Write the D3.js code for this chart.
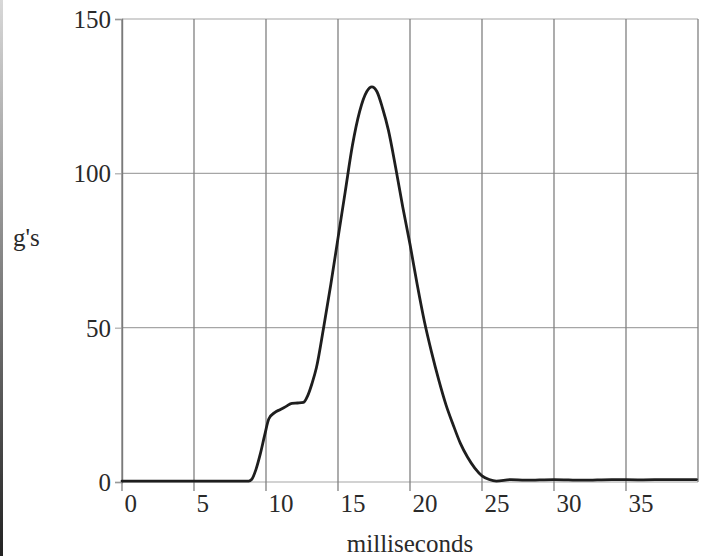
<!DOCTYPE html>
<html>
<head>
<meta charset="utf-8">
<script src="https://cdn.jsdelivr.net/npm/d3@7"></script>
<style>
  html, body { margin: 0; padding: 0; background: #fff; }
  svg { display: block; }
  text { font-family: "Liberation Serif", "Times New Roman", serif; fill: #2a2a2a; }
</style>
</head>
<body>
<svg id="chart" width="709" height="556"></svg>
<script>
// time in milliseconds
const timeMs = [0, 2, 4, 6, 8, 8.8, 9.0, 9.3, 9.6, 9.9, 10.2, 10.6, 11.0, 11.4, 11.8, 12.2, 12.6, 12.9, 13.2, 13.5,
  14.0, 14.5, 15.0, 15.5, 16.0, 16.5, 17.0, 17.35, 17.7, 18.1, 18.5, 19.0, 19.5, 20.0, 20.5, 21.0, 21.5, 22.0,
  22.5, 23.0, 23.5, 24.0, 24.5, 25.0, 25.5, 26, 27, 28, 30, 32, 34, 36, 38, 39.9];
// acceleration in g's
const gValues = [0.3, 0.3, 0.3, 0.3, 0.3, 0.3, 0.8, 4, 9, 15, 20.5, 22.5, 23.5, 24.5, 25.5, 25.6, 25.8, 28, 32, 37,
  50, 64, 79, 94, 109, 120, 126.5, 128, 126.5, 121, 114, 102, 89, 77, 64, 52, 42, 33,
  25, 18.5, 12.5, 8, 4.5, 2, 0.8, 0.3, 0.8, 0.6, 0.8, 0.6, 0.8, 0.7, 0.8, 0.8];
const xTicks = [0, 5, 10, 15, 20, 25, 30, 35];
const xGrid = [0, 5, 10, 15, 20, 25, 30, 35, 40];
const yTicks = [0, 50, 100, 150];
const xLabel = "milliseconds";
const yLabel = "g's";

const svg = d3.select("#chart");
const mLeft = 122, mRight = 698, mTop = 19, mBottom = 482;

const x = d3.scaleLinear().domain([0, 40]).range([mLeft, mRight]);
const y = d3.scaleLinear().domain([0, 150]).range([mBottom, mTop]);

// scan-edge artifact on the left border
const defs = svg.append("defs");
const grad = defs.append("linearGradient").attr("id", "edge").attr("x1", 0).attr("x2", 0).attr("y1", 0).attr("y2", 1);
grad.append("stop").attr("offset", "0%").attr("stop-color", "#d8d8d8");
grad.append("stop").attr("offset", "55%").attr("stop-color", "#777");
grad.append("stop").attr("offset", "100%").attr("stop-color", "#222");
svg.append("rect").attr("x", 0).attr("y", 0).attr("width", 3).attr("height", 556).attr("fill", "url(#edge)");

// horizontal gridlines
svg.append("g").selectAll("line").data(yTicks).join("line")
  .attr("x1", mLeft).attr("x2", mRight)
  .attr("y1", d => y(d)).attr("y2", d => y(d))
  .attr("stroke", "#a6a6a6").attr("stroke-width", 1.2);

// vertical gridlines with small ticks below axis
svg.append("g").selectAll("line").data(xGrid).join("line")
  .attr("x1", d => x(d)).attr("x2", d => x(d))
  .attr("y1", mTop).attr("y2", d => d === 40 ? mBottom : mBottom + 9)
  .attr("stroke", "#808080").attr("stroke-width", 1.3);

// y axis
const yAxis = d3.axisLeft(y).tickValues(yTicks).tickSize(7).tickFormat(d3.format("d"));
const gy = svg.append("g").attr("transform", `translate(${mLeft},0)`).call(yAxis);
gy.attr("font-family", null);
gy.select(".domain").attr("stroke", "#7a7a7a").attr("stroke-width", 1.4);
gy.selectAll(".tick line").attr("stroke", "#999");
gy.selectAll(".tick text").attr("font-size", 25).attr("x", -11).attr("dy", "0.34em")
  .attr("fill", "#2a2a2a");

// x axis labels (left-aligned at gridlines)
const xAxis = d3.axisBottom(x).tickValues(xTicks).tickSize(0).tickFormat(d3.format("d"));
const gx = svg.append("g").attr("transform", `translate(0,${mBottom})`).call(xAxis);
gx.attr("font-family", null);
gx.select(".domain").remove();
gx.selectAll(".tick text").attr("font-size", 25).attr("text-anchor", "start")
  .attr("x", 2).attr("y", 30).attr("dy", 0)
  .attr("fill", "#2a2a2a");

// axis titles
svg.append("text").attr("x", 410).attr("y", 552).attr("text-anchor", "middle")
  .attr("font-size", 25).text(xLabel);
svg.append("text").attr("x", 13).attr("y", 246).attr("text-anchor", "start")
  .attr("font-size", 25).text(yLabel);

// curve
const line = d3.line().x((d, i) => x(timeMs[i])).y(d => y(d)).curve(d3.curveMonotoneX);
svg.append("path").datum(gValues).attr("d", line)
  .attr("fill", "none").attr("stroke", "#1e1e1e").attr("stroke-width", 2.8)
  .attr("stroke-linejoin", "round").attr("stroke-linecap", "round");
</script>
</body>
</html>
